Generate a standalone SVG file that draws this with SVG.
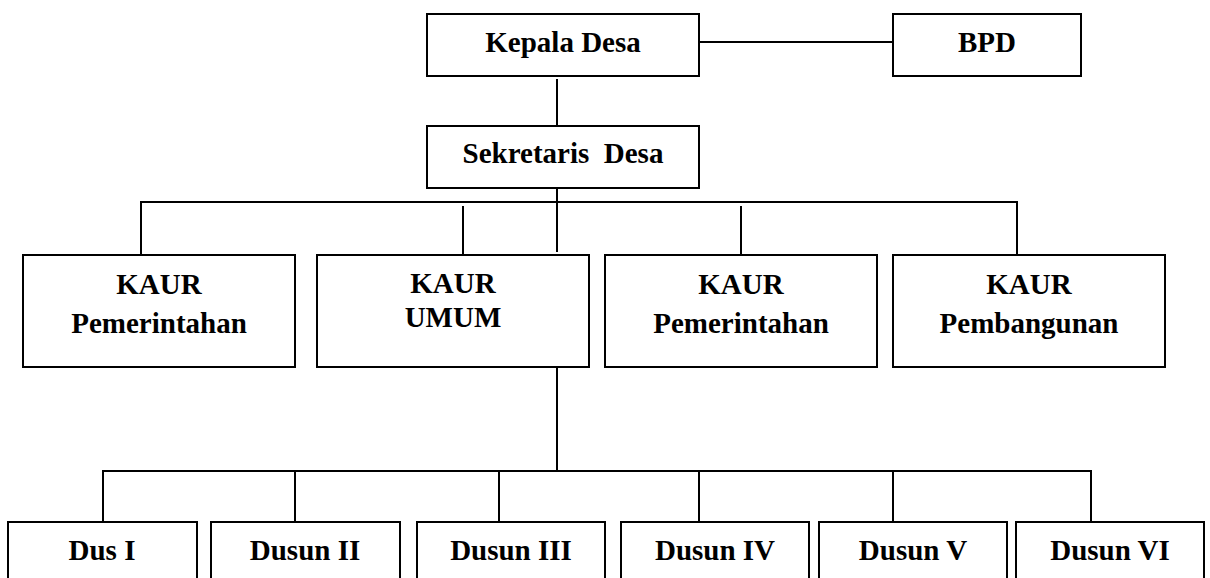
<svg xmlns="http://www.w3.org/2000/svg" width="1210" height="578" viewBox="0 0 1210 578">
<style>
.box{fill:#fff;stroke:#000;stroke-width:2}
.ln{stroke:#000;stroke-width:2;fill:none}
</style>
<rect width="1210" height="578" fill="#fff"/>
<g id="connectors">
<line class="ln" x1="699" y1="42" x2="893" y2="42"/>
<line class="ln" x1="557" y1="79" x2="557" y2="129"/>
<line class="ln" x1="557" y1="163" x2="557" y2="252"/>
<line class="ln" x1="141" y1="202" x2="1018" y2="202"/>
<line class="ln" x1="141" y1="201" x2="141" y2="255"/>
<line class="ln" x1="463" y1="206" x2="463" y2="255"/>
<line class="ln" x1="741" y1="206" x2="741" y2="255"/>
<line class="ln" x1="1017" y1="201" x2="1017" y2="255"/>
<line class="ln" x1="557" y1="367" x2="557" y2="471"/>
<line class="ln" x1="102" y1="471" x2="1092" y2="471"/>
<line class="ln" x1="103" y1="470" x2="103" y2="522"/>
<line class="ln" x1="295" y1="471" x2="295" y2="522"/>
<line class="ln" x1="499" y1="471" x2="499" y2="522"/>
<line class="ln" x1="699" y1="471" x2="699" y2="522"/>
<line class="ln" x1="893" y1="471" x2="893" y2="522"/>
<line class="ln" x1="1091" y1="470" x2="1091" y2="522"/>
</g>
<g font-family="Liberation Serif, Times New Roman, serif" font-weight="bold" font-size="29" fill="#000" text-anchor="middle">
<g id="kepala-desa"><rect class="box" x="427" y="14" width="272" height="62"/><text x="563" y="52">Kepala Desa</text></g>
<g id="bpd"><rect class="box" x="893" y="14" width="188" height="62"/><text x="987" y="52">BPD</text></g>
<g id="sekretaris-desa"><rect class="box" x="427" y="126" width="272" height="62"/><text x="563" y="163" xml:space="preserve">Sekretaris  Desa</text></g>
<g id="kaur-pemerintahan-1"><rect class="box" x="23" y="255" width="272" height="112"/><text x="159" y="294">KAUR</text><text x="159" y="333">Pemerintahan</text></g>
<g id="kaur-umum"><rect class="box" x="317" y="255" width="272" height="112"/><text x="453" y="293">KAUR</text><text x="453" y="327">UMUM</text></g>
<g id="kaur-pemerintahan-2"><rect class="box" x="605" y="255" width="272" height="112"/><text x="741" y="294">KAUR</text><text x="741" y="333">Pemerintahan</text></g>
<g id="kaur-pembangunan"><rect class="box" x="893" y="255" width="272" height="112"/><text x="1029" y="294">KAUR</text><text x="1029" y="333">Pembangunan</text></g>
<g id="dusun-1"><rect class="box" x="8" y="522" width="189" height="80"/><text x="102" y="560">Dus I</text></g>
<g id="dusun-2"><rect class="box" x="211" y="522" width="189" height="80"/><text x="305" y="560">Dusun II</text></g>
<g id="dusun-3"><rect class="box" x="417" y="522" width="188" height="80"/><text x="511" y="560">Dusun III</text></g>
<g id="dusun-4"><rect class="box" x="621" y="522" width="188" height="80"/><text x="715" y="560">Dusun IV</text></g>
<g id="dusun-5"><rect class="box" x="819" y="522" width="188" height="80"/><text x="913" y="560">Dusun V</text></g>
<g id="dusun-6"><rect class="box" x="1016" y="522" width="188" height="80"/><text x="1110" y="560">Dusun VI</text></g>
</g>
</svg>
